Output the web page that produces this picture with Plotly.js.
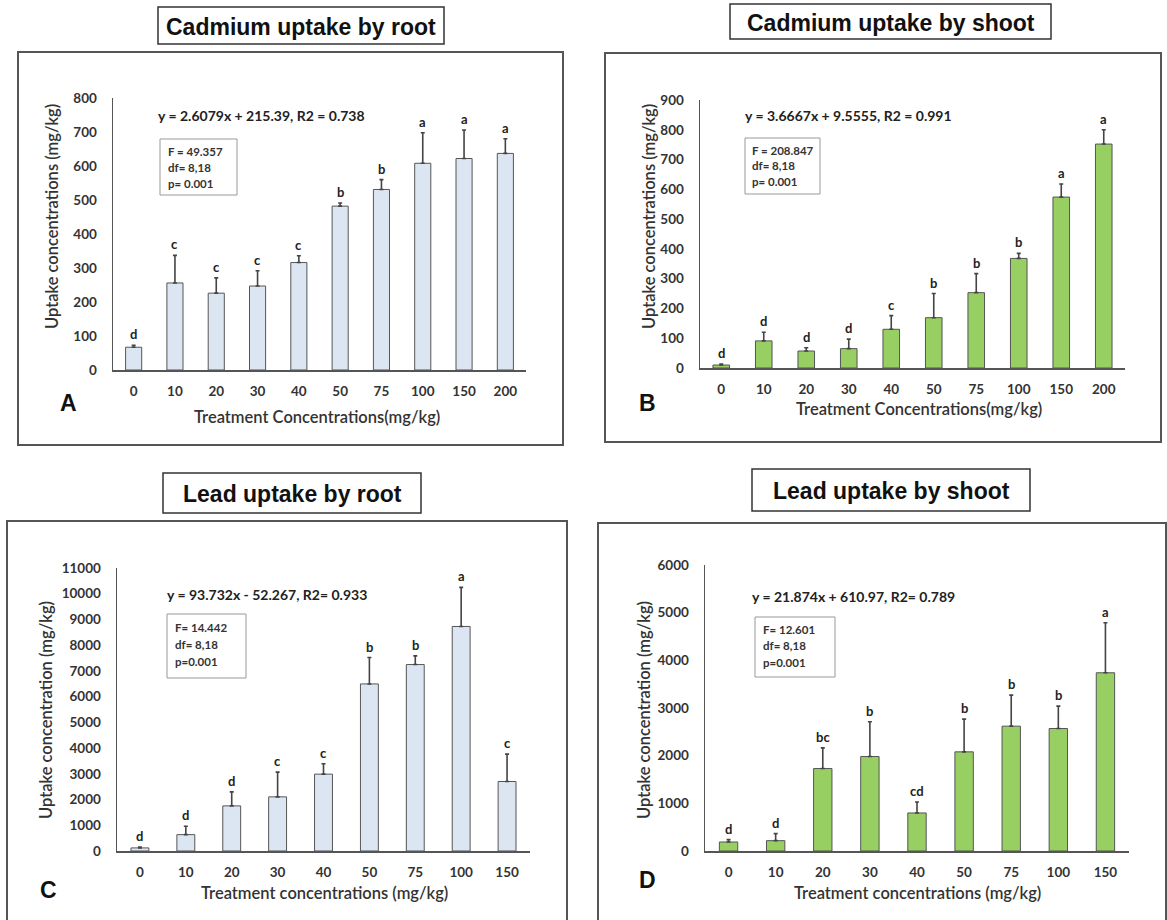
<!DOCTYPE html>
<html>
<head>
<meta charset="utf-8">
<script src="https://cdn.plot.ly/plotly-3.0.1.min.js"></script>
<style>html,body{margin:0;padding:0;background:#fff;}#chart{width:1167px;height:920px;}</style>
</head>
<body>
<div id="chart"></div>
<script>
// ---------- DATA ----------
const cdCategories = ['0','10','20','30','40','50','75','100','150','200'];
const pbCategories = ['0','10','20','30','40','50','75','100','150'];

const cdRootValues = [67, 256, 226, 247, 316, 482, 531, 608, 622, 637];
const cdRootErrors = [6, 81, 45, 45, 20, 9, 29, 90, 84, 43];
const cdRootLetters = ['d','c','c','c','c','b','b','a','a','a'];

const cdShootValues = [10, 91, 57, 65, 130, 169, 253, 368, 574, 752];
const cdShootErrors = [3, 29, 11, 32, 46, 81, 64, 17, 44, 48];
const cdShootLetters = ['d','d','d','d','c','b','b','b','a','a'];

const pbRootValues = [120, 636, 1753, 2104, 2987, 6494, 7247, 8727, 2701];
const pbRootErrors = [30, 325, 546, 961, 403, 1026, 337, 1520, 1065];
const pbRootLetters = ['d','d','d','c','c','b','b','a','c'];

const pbShootValues = [189, 217, 1730, 1982, 798, 2080, 2619, 2570, 3739];
const pbShootErrors = [49, 147, 434, 728, 231, 686, 651, 469, 1051];
const pbShootLetters = ['d','d','bc','b','cd','b','b','b','a'];

const panelTitles = ['Cadmium uptake by root','Cadmium uptake by shoot','Lead uptake by root','Lead uptake by shoot'];
const equations = ['y = 2.6079x + 215.39, R2 = 0.738','y = 3.6667x + 9.5555, R2 = 0.991','y = 93.732x - 52.267, R2= 0.933','y = 21.874x + 610.97, R2= 0.789'];
const statsLines = [
  ['F = 49.357','df= 8,18','p= 0.001'],
  ['F = 208.847','df= 8,18','p= 0.001'],
  ['F= 14.442','df= 8,18','p=0.001'],
  ['F= 12.601','df= 8,18','p=0.001']
];
const panelLabels = ['A','B','C','D'];
const xTitles = ['Treatment Concentrations(mg/kg)','Treatment Concentrations(mg/kg)','Treatment concentrations (mg/kg)','Treatment concentrations (mg/kg)'];
const yTitles = ['Uptake concentrations (mg/kg)','Uptake concentrations (mg/kg)','Uptake concentration (mg/kg)','Uptake concentration (mg/kg)'];
const yRanges = [[0,800],[0,900],[0,11000],[0,6000]];
const yDticks = [100,100,1000,1000];

// ---------- LAYOUT HELPERS ----------
const W = 1167, H = 920;
const px = x => x / W;
const py = y => 1 - y / H;

const blueFill = '#dce6f2';
const greenFill = '#97cf63';
const font = 'Lato, "Open Sans", sans-serif';
const titleFont = '"Liberation Sans", Arial, sans-serif';

const panels = [
  {cats: cdCategories, vals: cdRootValues, errs: cdRootErrors, letters: cdRootLetters, fill: blueFill,
   xd: [113,526], yd: [370,98], frame: [18,52,563,445], tbox: [158,7,444,44],
   sbox: [160,139,237,195], sx: 166, sy: [151,167,183], eq: [156,116], lab: [68,403], xt: [317,417], yt: [52,217]},
  {cats: cdCategories, vals: cdShootValues, errs: cdShootErrors, letters: cdShootLetters, fill: greenFill,
   xd: [700,1125], yd: [368,100], frame: [605,53,1161,442], tbox: [730,4,1051,39],
   sbox: [745,138,820,194], sx: 750, sy: [150,166,182], eq: [743,116], lab: [647,403], xt: [919,409], yt: [649,217]},
  {cats: pbCategories, vals: pbRootValues, errs: pbRootErrors, letters: pbRootLetters, fill: blueFill,
   xd: [117,530], yd: [851,568], frame: [7,521,567,940], tbox: [163,473,421,513],
   sbox: [167,614,246,678], sx: 173, sy: [627,644,661], eq: [165,594], lab: [48,890], xt: [324,893], yt: [46,710]},
  {cats: pbCategories, vals: pbShootValues, errs: pbShootErrors, letters: pbShootLetters, fill: greenFill,
   xd: [705,1129], yd: [851,565], frame: [598,523,1166,940], tbox: [752,469,1030,511],
   sbox: [755,617,835,677], sx: 761, sy: [629,645,662], eq: [750,596], lab: [647,880], xt: [917,893], yt: [644,710]}
];

const data = [];
const layout = {
  width: W, height: H,
  margin: {l:0, r:0, t:0, b:0},
  paper_bgcolor: '#fff', plot_bgcolor: 'rgba(0,0,0,0)',
  showlegend: false,
  bargap: 0.61,
  font: {family: font, color: '#333'},
  shapes: [], annotations: []
};

panels.forEach((p, i) => {
  const sfx = i === 0 ? '' : String(i + 1);
  const xa = 'xaxis' + sfx, ya = 'yaxis' + sfx;
  const idx = p.cats.map((c, k) => k);
  data.push({
    type: 'bar', x: p.cats, y: p.vals,
    xaxis: 'x' + sfx, yaxis: 'y' + sfx,
    marker: {color: p.fill, line: {color: '#555', width: 1}},
    error_y: {type: 'data', symmetric: false, array: p.errs, arrayminus: p.errs.map(() => 0),
              color: '#444', thickness: 1.6, width: 2},
    hoverinfo: 'x+y'
  });
  layout[xa] = {
    domain: [px(p.xd[0]), px(p.xd[1])], anchor: 'y' + sfx, type: 'category',
    categoryorder: 'array', categoryarray: p.cats,
    range: [-0.5, p.cats.length - 0.5], autorange: false, tickangle: 0,
    showline: true, linecolor: '#555', linewidth: 1.5, ticks: '', showgrid: false, zeroline: false,
    tickfont: {family: font, size: 13.5, color: '#333', weight: 'bold'}, ticklabelstandoff: 8
  };
  layout[ya] = {
    domain: [py(p.yd[0]), py(p.yd[1])], anchor: 'x' + sfx,
    range: yRanges[i], autorange: false, tickmode: 'linear', tick0: 0, dtick: yDticks[i], tickformat: 'd',
    showline: true, linecolor: '#555', linewidth: 1.5, ticks: '', showgrid: false, zeroline: false,
    tickfont: {family: font, size: 13.5, color: '#333', weight: 'bold'}, ticklabelstandoff: 12
  };
  // letters above error bars (x given as category index)
  p.letters.forEach((l, k) => {
    layout.annotations.push({
      xref: 'x' + sfx, yref: 'y' + sfx, x: idx[k], y: p.vals[k] + p.errs[k],
      text: l, showarrow: false, yanchor: 'bottom', yshift: 1,
      font: {family: font, size: 13, color: '#222', weight: 'bold'}
    });
  });
  // outer frame
  const f = p.frame;
  layout.shapes.push({type: 'rect', xref: 'paper', yref: 'paper', x0: px(f[0]), x1: px(f[2]), y0: py(f[3]), y1: py(f[1]),
    line: {color: '#555', width: 2}, fillcolor: 'rgba(0,0,0,0)', layer: 'below'});
  // title box
  const t = p.tbox;
  layout.shapes.push({type: 'rect', xref: 'paper', yref: 'paper', x0: px(t[0]), x1: px(t[2]), y0: py(t[3]), y1: py(t[1]),
    line: {color: '#333', width: 1.5}, fillcolor: 'rgba(0,0,0,0)'});
  layout.annotations.push({xref: 'paper', yref: 'paper', x: px((t[0] + t[2]) / 2), y: py((t[1] + t[3]) / 2 + 1),
    text: panelTitles[i], showarrow: false, xanchor: 'center', yanchor: 'middle',
    font: {family: titleFont, size: 23, color: '#111', weight: 'bold'}});
  // stats box
  const s = p.sbox;
  layout.shapes.push({type: 'rect', xref: 'paper', yref: 'paper', x0: px(s[0]), x1: px(s[2]), y0: py(s[3]), y1: py(s[1]),
    line: {color: '#999', width: 1}, fillcolor: 'rgba(0,0,0,0)'});
  statsLines[i].forEach((line, k) => {
    layout.annotations.push({xref: 'paper', yref: 'paper', x: px(p.sx), y: py(p.sy[k]),
      text: line, showarrow: false, xanchor: 'left', yanchor: 'middle',
      font: {family: font, size: 11.5, color: '#333', weight: 'bold'}});
  });
  // equation
  layout.annotations.push({xref: 'paper', yref: 'paper', x: px(p.eq[0]), y: py(p.eq[1]),
    text: equations[i], showarrow: false, xanchor: 'left', yanchor: 'middle',
    font: {family: font, size: 14, color: '#222', weight: 'bold'}});
  // panel letter
  layout.annotations.push({xref: 'paper', yref: 'paper', x: px(p.lab[0]), y: py(p.lab[1]),
    text: panelLabels[i], showarrow: false, xanchor: 'center', yanchor: 'middle',
    font: {family: titleFont, size: 23, color: '#111', weight: 'bold'}});
  // axis titles
  layout.annotations.push({xref: 'paper', yref: 'paper', x: px(p.xt[0]), y: py(p.xt[1]),
    text: xTitles[i], showarrow: false, xanchor: 'center', yanchor: 'middle',
    font: {family: font, size: 16.5, color: '#333', weight: 600}});
  layout.annotations.push({xref: 'paper', yref: 'paper', x: px(p.yt[0]), y: py(p.yt[1]),
    text: yTitles[i], showarrow: false, xanchor: 'center', yanchor: 'middle', textangle: -90,
    font: {family: font, size: 16.5, color: '#333', weight: 600}});
});

Plotly.newPlot('chart', data, layout, {displayModeBar: false, staticPlot: true});
</script>
</body>
</html>
